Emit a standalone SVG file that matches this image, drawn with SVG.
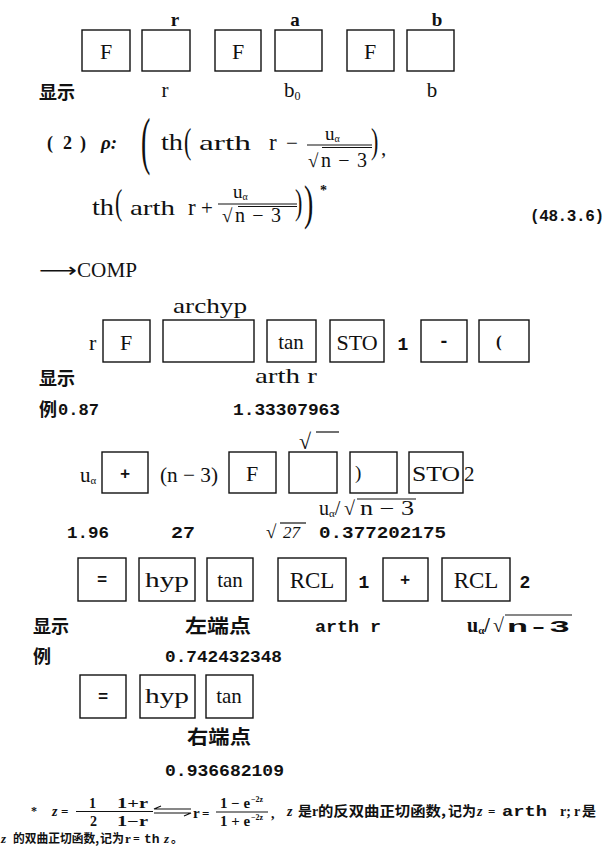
<svg xmlns="http://www.w3.org/2000/svg" width="610" height="856" viewBox="0 0 610 856" font-size="21">
<style>
text{fill:#111}
.k{fill:none;stroke:#111;stroke-width:1.4}
.s{font-family:"Liberation Serif",serif}
.sb{font-family:"Liberation Serif",serif;font-weight:bold}
.m{font-family:"Liberation Mono",monospace;font-weight:bold}
.c{font-family:"Noto Sans CJK SC",sans-serif;font-weight:bold}
.ln{stroke:#111;stroke-width:1.2;fill:none}
.mid{text-anchor:middle}
.it{font-style:italic}
</style>
<rect width="610" height="856" fill="#fff"/>

<g id="row1">
<text class="sb mid" x="175" y="26" font-size="19">r</text>
<text class="sb mid" x="295" y="26" font-size="19">a</text>
<text class="sb mid" x="437" y="26" font-size="19">b</text>
<g id="r1k1"><rect class="k" x="82" y="30" width="48" height="41"/><text class="s mid" x="106" y="59" font-size="22">F</text></g>
<g id="r1k2"><rect class="k" x="142" y="30" width="48" height="41"/></g>
<g id="r1k3"><rect class="k" x="215" y="30" width="46" height="41"/><text class="s mid" x="238" y="59" font-size="22">F</text></g>
<g id="r1k4"><rect class="k" x="275" y="30" width="47" height="41"/></g>
<g id="r1k5"><rect class="k" x="347" y="30" width="47" height="41"/><text class="s mid" x="370" y="59" font-size="22">F</text></g>
<g id="r1k6"><rect class="k" x="407" y="30" width="47" height="41"/></g>
<text class="c" x="39" y="99" font-size="18">显示</text>
<text class="s mid" x="165" y="97" font-size="21">r</text>
<text class="s" x="284" y="97" font-size="21">b<tspan font-size="12" dy="3">0</tspan></text>
<text class="s mid" x="432" y="97" font-size="21">b</text>
</g>

<g id="formula">
<text class="sb" x="47" y="149" font-size="18">(</text>
<text class="sb" x="63" y="149" font-size="18">2</text>
<text class="sb" x="80" y="149" font-size="18">)</text>
<text class="sb it" x="101" y="149" font-size="19">ρ:</text>
<text class="s" font-size="28" transform="translate(141,162) scale(1,2.3)">(</text>
<text class="s" x="161" y="150" font-size="23" textLength="22" lengthAdjust="spacingAndGlyphs">th</text>
<text class="s" font-size="22" transform="translate(184,153) scale(1,1.6)">(</text>
<text class="s" x="199" y="150" font-size="22" textLength="52" lengthAdjust="spacingAndGlyphs">arth</text>
<text class="s" x="269" y="150" font-size="23">r</text>
<text class="s" x="286" y="150" font-size="21">−</text>
<text class="s" x="325" y="140" font-size="19">u<tspan font-size="10" dy="2">α</tspan></text>
<line class="ln" x1="307" y1="145" x2="372" y2="145"/>
<line class="ln" x1="322" y1="147.5" x2="372" y2="147.5" stroke-width="0.8"/>
<text class="s" x="308" y="167" font-size="19">√</text>
<text class="s" x="321" y="167" font-size="20" textLength="46">n − 3</text>
<text class="s" font-size="22" transform="translate(371,153) scale(1,1.6)">)</text>
<text class="s" x="381" y="155" font-size="21">,</text>

<text class="s" x="92" y="215" font-size="23" textLength="22" lengthAdjust="spacingAndGlyphs">th</text>
<text class="s" font-size="22" transform="translate(115,214) scale(1,1.6)">(</text>
<text class="s" x="130" y="215" font-size="22" textLength="45" lengthAdjust="spacingAndGlyphs">arth</text>
<text class="s" x="188" y="215" font-size="23">r</text>
<text class="s" x="201" y="215" font-size="21">+</text>
<text class="s" x="233" y="198" font-size="19">u<tspan font-size="10" dy="2">α</tspan></text>
<line class="ln" x1="218" y1="204" x2="297" y2="204"/>
<line class="ln" x1="238" y1="206.5" x2="297" y2="206.5" stroke-width="0.8"/>
<text class="s" x="222" y="222" font-size="19">√</text>
<text class="s" x="235" y="222" font-size="20" textLength="46">n − 3</text>
<text class="s" font-size="22" transform="translate(295,214) scale(1,1.6)">)</text>
<text class="s" font-size="28" transform="translate(304,219) scale(1,1.75)">)</text>
<text class="sb" x="320" y="195" font-size="14">*</text>
<text class="m" x="530" y="221" font-size="16" textLength="74">(48.3.6)</text>

<text x="39" y="277" font-family="DejaVu Sans, sans-serif" font-size="20" textLength="38" lengthAdjust="spacingAndGlyphs">⟶</text>
<text class="s" x="77" y="277" font-size="21" textLength="60" lengthAdjust="spacingAndGlyphs">COMP</text>
</g>

<g id="row2">
<text class="s" x="173" y="313" font-size="22" textLength="74" lengthAdjust="spacingAndGlyphs">archyp</text>
<text class="s" x="89" y="350" font-size="22">r</text>
<g id="r2k1"><rect class="k" x="103" y="320" width="47" height="42"/><text class="s mid" x="126" y="350" font-size="22">F</text></g>
<g id="r2k2"><rect class="k" x="163" y="320" width="91" height="42"/></g>
<g id="r2k3"><rect class="k" x="267" y="320" width="49" height="42"/><text class="s mid" x="291" y="349" font-size="21">tan</text></g>
<g id="r2k4"><rect class="k" x="330" y="320" width="54" height="42"/><text class="s mid" x="357" y="350" font-size="22">STO</text></g>
<text class="m mid" x="403" y="350" font-size="18">1</text>
<g id="r2k5"><rect class="k" x="421" y="320" width="46" height="42"/><text class="m mid" x="444" y="347" font-size="18">-</text></g>
<g id="r2k6"><rect class="k" x="479" y="320" width="50" height="42"/><text class="sb" x="496" y="347" font-size="17">(</text></g>
<text class="c" x="39" y="385" font-size="18">显示</text>
<text class="s" x="255" y="383" font-size="21" textLength="62" lengthAdjust="spacingAndGlyphs">arth r</text>
<text class="c" x="39" y="416" font-size="18">例</text>
<text class="m" x="58" y="415" font-size="17" textLength="41" lengthAdjust="spacingAndGlyphs">0.87</text>
<text class="m" x="233" y="415" font-size="17" textLength="107" lengthAdjust="spacingAndGlyphs">1.33307963</text>
</g>

<g id="row3">
<text class="s" x="299" y="449" font-size="22">√</text>
<line class="ln" x1="316" y1="432" x2="339" y2="432"/>
<text class="s" x="80" y="482" font-size="21">u<tspan font-size="11" dy="2">α</tspan></text>
<g id="r3k1"><rect class="k" x="102" y="452" width="46" height="41"/><text class="m mid" x="125" y="479" font-size="17">+</text></g>
<text class="s" x="160" y="482" font-size="21" textLength="58" lengthAdjust="spacingAndGlyphs">(n − 3)</text>
<g id="r3k2"><rect class="k" x="229" y="452" width="47" height="41"/><text class="s mid" x="252" y="481" font-size="22">F</text></g>
<g id="r3k3"><rect class="k" x="289" y="452" width="48" height="41"/></g>
<g id="r3k4"><rect class="k" x="350" y="452" width="47" height="41"/><text class="s" x="355" y="479" font-size="19">)</text></g>
<g id="r3k5"><rect class="k" x="409" y="452" width="54" height="41"/><text class="s" x="412" y="481" font-size="22" textLength="48" lengthAdjust="spacingAndGlyphs">STO</text></g>
<text class="s" x="464" y="481" font-size="21">2</text>
<text class="s" x="319" y="515" font-size="20">u<tspan font-size="11" dy="2">α</tspan><tspan dy="-2">/</tspan></text>
<text class="s" x="344" y="515" font-size="20">√</text>
<line class="ln" x1="357" y1="499" x2="416" y2="499"/>
<text class="s" x="360" y="515" font-size="20" textLength="54" lengthAdjust="spacingAndGlyphs">n − 3</text>
</g>

<g id="row4">
<text class="m" x="67" y="538" font-size="17" textLength="42" lengthAdjust="spacingAndGlyphs">1.96</text>
<text class="m" x="171" y="538" font-size="17" textLength="24" lengthAdjust="spacingAndGlyphs">27</text>
<text class="s" x="266" y="538" font-size="19">√</text>
<line class="ln" x1="280" y1="523" x2="306" y2="523" stroke-width="1"/>
<text class="s it" x="283" y="538" font-size="17">27</text>
<text class="m" x="319" y="538" font-size="17" textLength="127" lengthAdjust="spacingAndGlyphs">0.377202175</text>
<g id="r4k1"><rect class="k" x="78" y="558" width="48" height="43"/><text class="m mid" x="102" y="585" font-size="17">=</text></g>
<g id="r4k2"><rect class="k" x="139" y="558" width="56" height="43"/><text class="s mid" x="167" y="587" font-size="22" textLength="44" lengthAdjust="spacingAndGlyphs">hyp</text></g>
<g id="r4k3"><rect class="k" x="207" y="558" width="46" height="43"/><text class="s mid" x="230" y="587" font-size="21">tan</text></g>
<g id="r4k4"><rect class="k" x="278" y="558" width="68" height="43"/><text class="s mid" x="312" y="588" font-size="23">RCL</text></g>
<text class="m mid" x="364" y="588" font-size="18">1</text>
<g id="r4k5"><rect class="k" x="383" y="558" width="45" height="43"/><text class="m mid" x="405" y="585" font-size="17">+</text></g>
<g id="r4k6"><rect class="k" x="442" y="558" width="68" height="43"/><text class="s mid" x="476" y="588" font-size="23">RCL</text></g>
<text class="m mid" x="525" y="588" font-size="18">2</text>
<text class="c" x="33" y="633" font-size="18">显示</text>
<text class="c" x="185" y="633" font-size="19" textLength="66" lengthAdjust="spacingAndGlyphs">左端点</text>
<text class="m" x="315" y="632" font-size="17" textLength="66" lengthAdjust="spacingAndGlyphs">arth r</text>
<text class="sb" x="467" y="632" font-size="20">u<tspan font-size="11" dy="2">α</tspan><tspan dy="-2">/</tspan></text>
<text class="sb" x="493" y="632" font-size="20">√</text>
<line class="ln" x1="505" y1="615" x2="572" y2="615" stroke-width="1.5"/>
<text class="m" x="507" y="632" font-size="17" textLength="63" lengthAdjust="spacingAndGlyphs">n-3</text>
<text class="c" x="33" y="663" font-size="18">例</text>
<text class="m" x="165" y="662" font-size="17" textLength="117" lengthAdjust="spacingAndGlyphs">0.742432348</text>
</g>

<g id="row5">
<g id="r5k1"><rect class="k" x="80" y="675" width="46" height="43"/><text class="m mid" x="103" y="702" font-size="17">=</text></g>
<g id="r5k2"><rect class="k" x="140" y="675" width="55" height="43"/><text class="s mid" x="167" y="703" font-size="22" textLength="44" lengthAdjust="spacingAndGlyphs">hyp</text></g>
<g id="r5k3"><rect class="k" x="206" y="675" width="47" height="43"/><text class="s mid" x="229" y="703" font-size="21">tan</text></g>
<text class="c" x="187" y="744" font-size="19" textLength="64" lengthAdjust="spacingAndGlyphs">右端点</text>
<text class="m" x="165" y="776" font-size="17" textLength="119" lengthAdjust="spacingAndGlyphs">0.936682109</text>
</g>

<g id="footnote">
<text class="sb" x="31" y="815" font-size="12">*</text>
<text class="sb it" x="52" y="816" font-size="14">z</text>
<text class="sb" x="61" y="816" font-size="13">=</text>
<text class="sb" x="89" y="808" font-size="14">1</text>
<text class="sb" x="117" y="808" font-size="14" textLength="31" lengthAdjust="spacingAndGlyphs">1+r</text>
<line class="ln" x1="76" y1="811.5" x2="153" y2="811.5" stroke-width="1"/>
<text class="sb" x="90" y="826" font-size="14">2</text>
<text class="sb" x="117" y="826" font-size="14" textLength="31" lengthAdjust="spacingAndGlyphs">1−r</text>
<polyline class="ln" stroke-width="1" points="161,806 154,809 191,809"/>
<polyline class="ln" stroke-width="1" points="154,813 191,813 184,816"/>
<text class="sb" x="193" y="818" font-size="15">r</text>
<text class="sb" x="202" y="818" font-size="13">=</text>
<text class="sb" x="220" y="808" font-size="14" textLength="30" lengthAdjust="spacingAndGlyphs">1 − e</text>
<text class="sb" x="251" y="802" font-size="8">−2z</text>
<line class="ln" x1="216" y1="812" x2="268" y2="812" stroke-width="1"/>
<text class="sb" x="220" y="826" font-size="14" textLength="30" lengthAdjust="spacingAndGlyphs">1 + e</text>
<text class="sb" x="251" y="820" font-size="8">−2z</text>
<text class="sb" x="271" y="818" font-size="14">,</text>
<text class="sb it" x="287" y="816" font-size="14">z</text>
<text class="c" x="298" y="816" font-size="14">是</text>
<text class="sb" x="312" y="816" font-size="14">r</text>
<text class="c" x="318" y="816" font-size="14" textLength="128" lengthAdjust="spacingAndGlyphs">的反双曲正切函数,</text>
<text class="c" x="448" y="816" font-size="14" textLength="28" lengthAdjust="spacingAndGlyphs">记为</text>
<text class="sb it" x="477" y="816" font-size="14">z</text>
<text class="sb" x="488" y="816" font-size="13">=</text>
<text class="m" x="502" y="816" font-size="14" textLength="45" lengthAdjust="spacingAndGlyphs">arth</text>
<text class="sb" x="560" y="816" font-size="14">r;</text>
<text class="sb" x="574" y="816" font-size="14">r</text>
<text class="c" x="582" y="816" font-size="14">是</text>
<text class="sb it" x="1" y="843" font-size="13">z</text>
<text class="c" x="13" y="843" font-size="12" textLength="86" lengthAdjust="spacingAndGlyphs">的双曲正切函数,</text>
<text class="c" x="100" y="843" font-size="12" textLength="24" lengthAdjust="spacingAndGlyphs">记为</text>
<text class="sb" x="125" y="843" font-size="13">r</text>
<text class="sb" x="133" y="843" font-size="12">=</text>
<text class="m" x="144" y="843" font-size="13">th</text>
<text class="sb it" x="164" y="843" font-size="13">z</text>
<text class="c" x="171" y="843" font-size="12">。</text>
</g>
</svg>
